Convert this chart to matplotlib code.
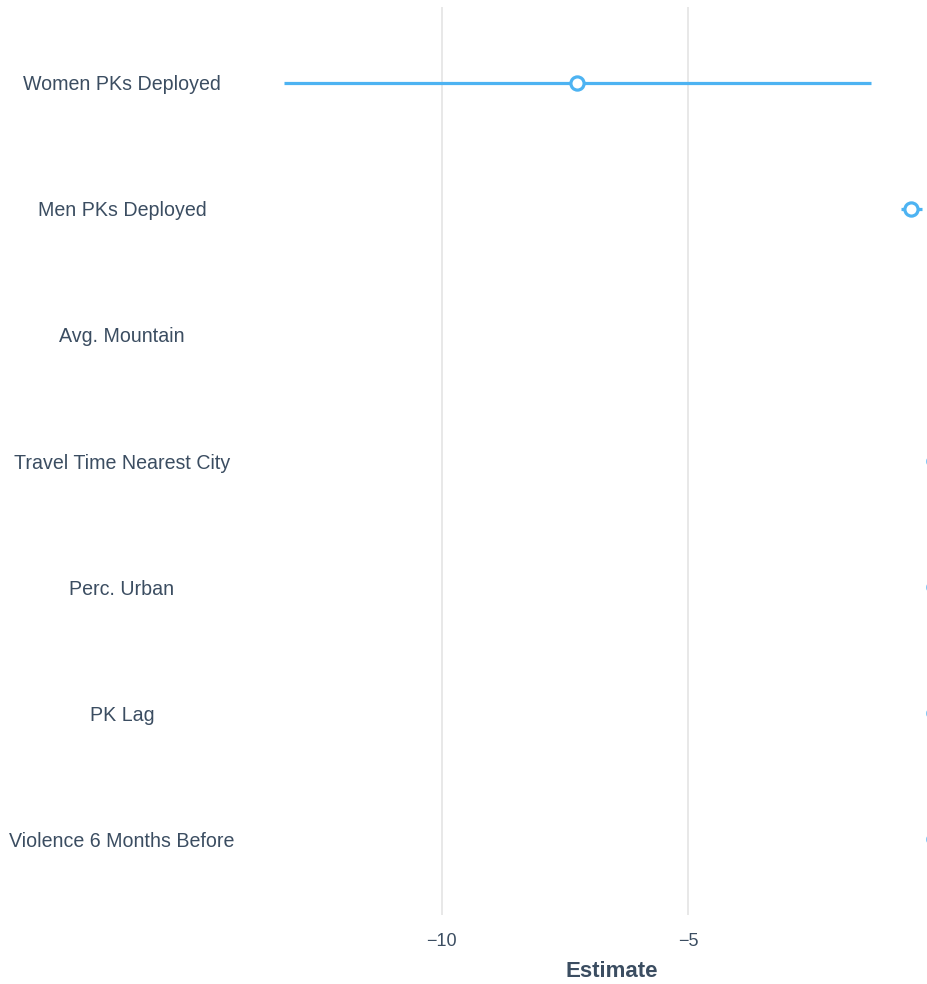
import numpy as np
import matplotlib.pyplot as plt
from matplotlib.transforms import blended_transform_factory

plt.rcParams['font.family'] = ['Liberation Sans', 'DejaVu Sans']

# ---------- data --------------------------------------------------------------
terms = ['Women PKs Deployed', 'Men PKs Deployed', 'Avg. Mountain',
         'Travel Time Nearest City', 'Perc. Urban', 'PK Lag',
         'Violence 6 Months Before']
estimate = [-7.26, -0.47, 0.45, 0.0, 0.0, 0.0, 0.0]
conf_low = [-13.21, -0.67, 0.20, -0.03, -0.03, -0.03, -0.03]
conf_high = [-1.28, -0.24, 0.70, 0.03, 0.03, 0.03, 0.03]
xticks = [-10, -5]
xtick_labels = ['\u221210', '\u22125']

blue = '#4db3f2'
txt = '#3b4d61'

# ---------- plot --------------------------------------------------------------
# the plot panel runs past the right edge of the picture (cropped like the original)
fig = plt.figure(figsize=(9.28, 9.84), dpi=100)
ax = fig.add_axes([245/928, 1-915/984, (979-245)/928, (915-7)/984])

ypos = np.arange(len(terms))
for y, e, lo, hi in zip(ypos, estimate, conf_low, conf_high):
    ax.plot([lo, hi], [y, y], color=blue, lw=2.3, solid_capstyle='butt', zorder=2)
    ax.plot(e, y, 'o', ms=9.5, mfc='white', mec=blue, mew=2.3, zorder=3)

ax.set_xlim(-14.0, 0.91)
ax.set_ylim(len(terms) - 0.4, -0.6)
ax.set_xticks(xticks)
ax.set_xticklabels(xtick_labels)
ax.tick_params(axis='x', length=0, pad=13, labelsize=13, labelcolor=txt)
ax.set_yticks([])
ax.grid(axis='x', color='#e6e6e6', lw=1.3, zorder=0)
for s in ax.spines.values():
    s.set_visible(False)

tr = blended_transform_factory(fig.transFigure, ax.transData)
for y, lab in zip(ypos, terms):
    ax.text(122/928, y, lab, transform=tr, ha='center', va='center_baseline',
            fontsize=14.1, color=txt, clip_on=False)

ax.set_xlabel('Estimate', fontsize=16, fontweight='bold', color=txt, labelpad=8)

fig.savefig('out.png', dpi=100)
